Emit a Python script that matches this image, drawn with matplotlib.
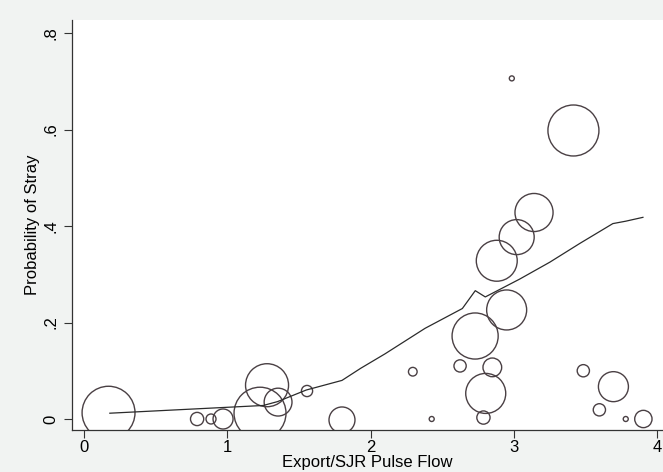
import matplotlib
matplotlib.use('Agg')
import matplotlib.pyplot as plt
import numpy as np

# observed strays by pulse-flow ratio (bubble weight = sample size)
ratio = [0.171, 0.789, 0.886, 0.970, 1.228, 1.277, 1.354, 1.556, 1.800,
         2.294, 2.426, 2.624, 2.729, 2.787, 2.803, 2.849, 2.880, 2.949,
         2.985, 3.019, 3.140, 3.415, 3.484, 3.596, 3.694, 3.780, 3.903]
p_stray = [0.013, 0.000, 0.000, 0.000, 0.012, 0.070, 0.035, 0.058, -0.002,
           0.098, 0.000, 0.110, 0.172, 0.003, 0.053, 0.107, 0.328, 0.226,
           0.706, 0.377, 0.428, 0.598, 0.100, 0.019, 0.067, 0.000, 0.000]
weight = [112, 7, 4, 16, 108, 74, 31, 5, 27,
          3, 1, 6, 85, 7, 64, 14, 67, 64,
          1, 49, 58, 104, 6, 6, 36, 1, 12]

# smoothed fit
fit_x = [0.18, 1.25, 1.35, 1.55, 1.80, 1.93, 2.10, 2.38, 2.64, 2.73,
         2.80, 3.04, 3.25, 3.46, 3.69, 3.78, 3.90]
fit_y = [0.012, 0.028, 0.036, 0.060, 0.080, 0.105, 0.135, 0.188, 0.229, 0.266,
         0.253, 0.290, 0.325, 0.364, 0.405, 0.410, 0.418]

yticks = [0, 0.2, 0.4, 0.6, 0.8]
ylabels = ['0', '.2', '.4', '.6', '.8']
xticks = [0, 1, 2, 3, 4]

plt.rcParams['font.family'] = ['Liberation Sans', 'DejaVu Sans']

fig = plt.figure(figsize=(6.63, 4.72), dpi=100, facecolor='#f1f3f2')
ax = fig.add_axes([0.1086, 0.089, 0.8914, 0.8686])
ax.set_facecolor('white')

sizes = 12.96 * np.array(weight)
ax.scatter(ratio, p_stray, s=sizes, facecolors='none', edgecolors='#4a4044',
           linewidths=1.0, zorder=2)
ax.plot(fit_x, fit_y, color='#2b2b2b', lw=0.9, zorder=3)

ax.set_xlim(-0.084, 4.04)
ax.set_ylim(-0.0228, 0.827)
ax.set_xticks(xticks)
ax.set_xticklabels([str(t) for t in xticks], fontsize=12)
ax.set_yticks(yticks)
ax.set_yticklabels(ylabels, fontsize=12, rotation=90, va='center')
ax.tick_params(axis='both', direction='out', length=6, width=0.8, color='#333333')
ax.tick_params(axis='x', pad=1)
ax.tick_params(axis='y', pad=4)
for side in ['top', 'right']:
    ax.spines[side].set_visible(False)
for side in ['left', 'bottom']:
    ax.spines[side].set_linewidth(0.9)
    ax.spines[side].set_color('#333333')

ax.set_xlabel('Export/SJR Pulse Flow', fontsize=12, labelpad=0)
ax.set_ylabel('Probability of Stray', fontsize=12, labelpad=2)

fig.savefig('out.png', dpi=100, facecolor=fig.get_facecolor())
